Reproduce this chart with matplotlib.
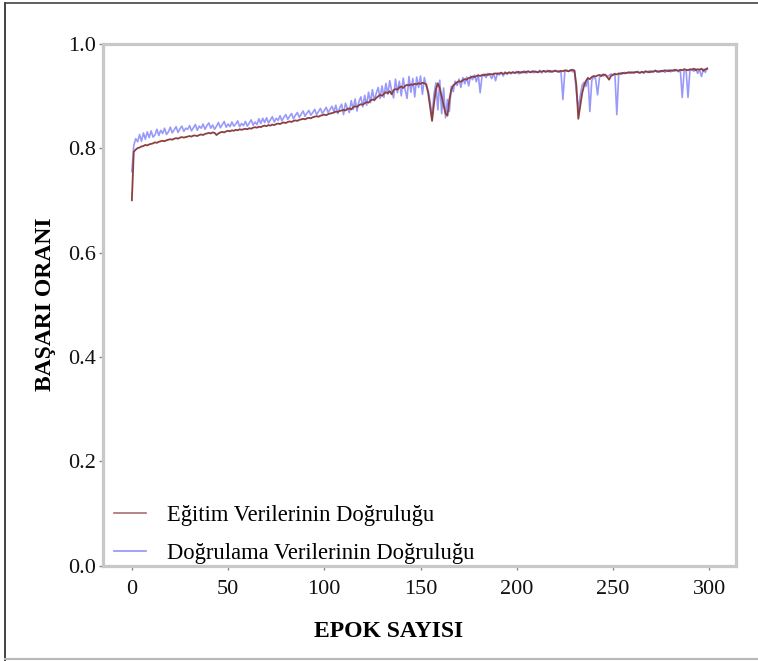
import matplotlib
matplotlib.use("Agg")
import matplotlib.pyplot as plt
from matplotlib.lines import Line2D

plt.rcParams["font.family"] = ["Liberation Serif", "DejaVu Serif"]

# eğitim doğruluğu, epok 0-299
train_acc = [
    0.700, 0.793, 0.797, 0.800, 0.801, 0.803, 0.804, 0.806, 0.805, 0.807,
    0.808, 0.809, 0.811, 0.810, 0.812, 0.813, 0.814, 0.813, 0.815, 0.816,
    0.817, 0.816, 0.818, 0.819, 0.818, 0.820, 0.821, 0.820, 0.821, 0.822,
    0.823, 0.822, 0.824, 0.824, 0.823, 0.825, 0.826, 0.825, 0.827, 0.828,
    0.829, 0.828, 0.830, 0.829, 0.825, 0.828, 0.830, 0.831, 0.830, 0.832,
    0.833, 0.832, 0.834, 0.833, 0.835, 0.834, 0.836, 0.835, 0.836, 0.837,
    0.836, 0.838, 0.837, 0.839, 0.840, 0.839, 0.841, 0.840, 0.842, 0.843,
    0.842, 0.844, 0.843, 0.845, 0.844, 0.846, 0.847, 0.846, 0.848, 0.849,
    0.848, 0.850, 0.851, 0.850, 0.852, 0.853, 0.852, 0.854, 0.855, 0.856,
    0.855, 0.857, 0.858, 0.857, 0.859, 0.860, 0.861, 0.860, 0.862, 0.863,
    0.864, 0.863, 0.865, 0.866, 0.867, 0.868, 0.870, 0.869, 0.871, 0.872,
    0.873, 0.872, 0.875, 0.876, 0.874, 0.878, 0.880, 0.879, 0.882, 0.884,
    0.883, 0.886, 0.888, 0.887, 0.891, 0.893, 0.892, 0.896, 0.899, 0.902,
    0.900, 0.904, 0.907, 0.905, 0.909, 0.903, 0.911, 0.913, 0.912, 0.916,
    0.918, 0.915, 0.919, 0.921, 0.920, 0.922, 0.921, 0.923, 0.922, 0.924,
    0.923, 0.925, 0.924, 0.922, 0.905, 0.878, 0.852, 0.885, 0.912, 0.924,
    0.915, 0.898, 0.882, 0.866, 0.862, 0.893, 0.912, 0.920, 0.923, 0.926,
    0.928, 0.927, 0.930, 0.932, 0.931, 0.934, 0.935, 0.937, 0.936, 0.938,
    0.939, 0.938, 0.940, 0.939, 0.941, 0.940, 0.942, 0.941, 0.942, 0.943,
    0.942, 0.943, 0.944, 0.942, 0.944, 0.943, 0.945, 0.944, 0.945, 0.944,
    0.945, 0.946, 0.944, 0.946, 0.945, 0.946, 0.947, 0.945, 0.946, 0.947,
    0.946, 0.945, 0.947, 0.946, 0.948, 0.946, 0.947, 0.948, 0.946, 0.947,
    0.948, 0.947, 0.946, 0.948, 0.947, 0.949, 0.948, 0.947, 0.949, 0.950,
    0.948, 0.920, 0.856, 0.880, 0.905, 0.920, 0.929, 0.934, 0.932, 0.936,
    0.938, 0.937, 0.939, 0.940, 0.938, 0.941, 0.940, 0.936, 0.931, 0.938,
    0.940, 0.942, 0.941, 0.943, 0.942, 0.944, 0.943, 0.944, 0.945, 0.944,
    0.945, 0.944, 0.946, 0.945, 0.944, 0.946, 0.945, 0.947, 0.946, 0.945,
    0.947, 0.946, 0.948, 0.947, 0.946, 0.948, 0.947, 0.949, 0.948, 0.947,
    0.949, 0.948, 0.950, 0.949, 0.948, 0.950, 0.949, 0.951, 0.950, 0.949,
    0.951, 0.950, 0.952, 0.949, 0.951, 0.950, 0.952, 0.948, 0.951, 0.952,
]

# doğrulama doğruluğu, epok 0-299
val_acc = [
    0.755, 0.805, 0.818, 0.812, 0.826, 0.813, 0.829, 0.817, 0.831, 0.820,
    0.833, 0.821, 0.825, 0.836, 0.824, 0.834, 0.828, 0.838, 0.826, 0.831,
    0.840, 0.829, 0.835, 0.841, 0.830, 0.837, 0.842, 0.832, 0.838, 0.836,
    0.843, 0.833, 0.839, 0.845, 0.834, 0.842, 0.838, 0.846, 0.836, 0.843,
    0.848, 0.838, 0.844, 0.836, 0.842, 0.849, 0.839, 0.845, 0.851, 0.840,
    0.846, 0.841, 0.850, 0.842, 0.846, 0.852, 0.841, 0.847, 0.843, 0.851,
    0.842, 0.848, 0.854, 0.844, 0.850, 0.845, 0.856, 0.847, 0.857, 0.849,
    0.858, 0.848, 0.854, 0.860, 0.850, 0.857, 0.853, 0.862, 0.852, 0.859,
    0.864, 0.855, 0.861, 0.866, 0.856, 0.863, 0.868, 0.859, 0.865, 0.871,
    0.861, 0.867, 0.872, 0.863, 0.868, 0.874, 0.864, 0.870, 0.876, 0.866,
    0.872, 0.878, 0.868, 0.874, 0.880, 0.870, 0.882, 0.866, 0.877, 0.884,
    0.864, 0.886, 0.876, 0.868, 0.891, 0.874, 0.894, 0.871, 0.889, 0.898,
    0.879, 0.901, 0.882, 0.907, 0.887, 0.912, 0.891, 0.905, 0.916, 0.895,
    0.919, 0.897, 0.924, 0.903, 0.929, 0.910, 0.896, 0.932, 0.906, 0.928,
    0.900, 0.934, 0.912, 0.895, 0.937, 0.907, 0.933, 0.898, 0.936, 0.916,
    0.938, 0.903, 0.935, 0.918, 0.910, 0.888, 0.860, 0.903, 0.925, 0.873,
    0.930, 0.866, 0.915, 0.858, 0.893, 0.870, 0.918, 0.908, 0.928, 0.920,
    0.932, 0.916, 0.935, 0.923, 0.936, 0.919, 0.938, 0.931, 0.940, 0.927,
    0.941, 0.906, 0.939, 0.942, 0.935, 0.943, 0.940, 0.933, 0.943, 0.929,
    0.944, 0.940, 0.945, 0.938, 0.946, 0.941, 0.945, 0.942, 0.946, 0.943,
    0.947, 0.942, 0.946, 0.944, 0.948, 0.943, 0.947, 0.945, 0.948, 0.944,
    0.947, 0.945, 0.949, 0.944, 0.948, 0.946, 0.949, 0.945, 0.948, 0.946,
    0.949, 0.946, 0.948, 0.945, 0.893, 0.947, 0.949, 0.947, 0.950, 0.946,
    0.949, 0.905, 0.875, 0.900, 0.921, 0.926, 0.918, 0.935, 0.870, 0.929,
    0.937, 0.932, 0.902, 0.935, 0.940, 0.938, 0.941, 0.937, 0.939, 0.942,
    0.940, 0.943, 0.864, 0.941, 0.944, 0.942, 0.945, 0.943, 0.944, 0.946,
    0.944, 0.946, 0.945, 0.947, 0.944, 0.946, 0.943, 0.947, 0.945, 0.948,
    0.945, 0.947, 0.949, 0.945, 0.948, 0.946, 0.949, 0.945, 0.948, 0.950,
    0.946, 0.949, 0.947, 0.950, 0.946, 0.949, 0.897, 0.948, 0.950, 0.897,
    0.949, 0.951, 0.947, 0.952, 0.943, 0.950, 0.937, 0.951, 0.945, 0.953,
]

epochs = list(range(len(train_acc)))

TRAIN_C = "#8a4040"
VAL_C = "#6e6efa"
SPINE_C = "#c8c8c8"

fig = plt.figure(figsize=(7.58, 6.61), dpi=100)
ax = fig.add_axes([0.136, 0.144, 0.835, 0.790])

ax.plot(epochs, train_acc, color=TRAIN_C, lw=1.3, label="Eğitim Verilerinin Doğruluğu", zorder=3)
ax.plot(epochs, val_acc, color=VAL_C, lw=1.2, alpha=0.7, label="Doğrulama Verilerinin Doğruluğu", zorder=2)

ax.set_ylim(0.0, 1.0)
ax.set_xticks([0, 50, 100, 150, 200, 250, 300])
ax.set_yticks([0.0, 0.2, 0.4, 0.6, 0.8, 1.0])
ax.set_yticklabels(["0.0", "0.2", "0.4", "0.6", "0.8", "1.0"])

for s in ax.spines.values():
    s.set_color(SPINE_C)
    s.set_linewidth(2.3)
ax.tick_params(axis="both", labelsize=16, colors="#888888", labelcolor="#111111",
               length=3, width=1)
ax.tick_params(axis="x", pad=7)
ax.tick_params(axis="y", pad=2)

ax.set_ylabel("BAŞARI ORANI", fontsize=17, fontweight="bold", labelpad=9)
fig.text(0.513, 0.045, "EPOK SAYISI", fontsize=17, fontweight="bold",
         ha="center", va="center")

leg = ax.legend(loc="lower left", bbox_to_anchor=(-0.004, -0.022), frameon=False,
                fontsize=16.3, handlelength=1.4, handletextpad=0.95,
                labelspacing=0.72, borderaxespad=0.2)
for h in leg.get_lines():
    h.set_linewidth(1.2)
    h.set_alpha(0.75)

# dış çerçeve
fig.add_artist(Line2D([0.0066, 0.0066], [0.0, 0.995], color="#222222", lw=1.2))
fig.add_artist(Line2D([0.0066, 1.0], [0.995, 0.995], color="#444444", lw=1.2))
fig.add_artist(Line2D([0.0066, 1.0], [0.003, 0.003], color="#b8b8b8", lw=1.5))

fig.savefig("out.png", dpi=100)
